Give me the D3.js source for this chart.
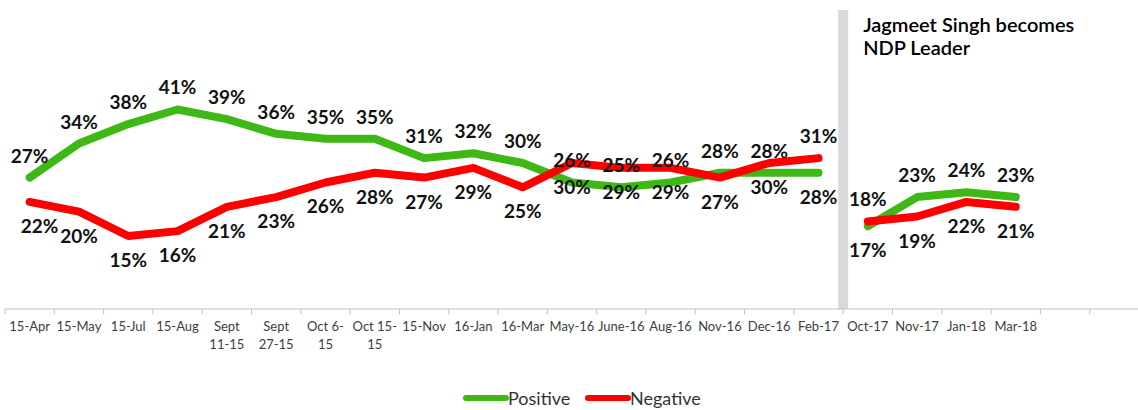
<!DOCTYPE html>
<meta charset="utf-8">
<style>
    body { margin: 0; background: #fff; }
    svg { font-family: Lato, "Open Sans", sans-serif; }
</style>
<body>
<svg width="1138" height="410"></svg>
<script src="https://d3js.org/d3.v7.min.js"></script>
<script>
    // survey waves (x categories); two empty slots follow on the right
    var categories = ["15-Apr", "15-May", "15-Jul", "15-Aug", "Sept\n11-15", "Sept\n27-15", "Oct 6-\n15", "Oct 15-\n15",
        "15-Nov", "16-Jan", "16-Mar", "May-16", "June-16", "Aug-16", "Nov-16", "Dec-16", "Feb-17",
        "Oct-17", "Nov-17", "Jan-18", "Mar-18"];
    var positive = [27, 34, 38, 41, 39, 36, 35, 35, 31, 32, 30, 26, 25, 26, 28, 28, 28, 17, 23, 24, 23];
    var negative = [22, 20, 15, 16, 21, 23, 26, 28, 27, 29, 25, 30, 29, 29, 27, 30, 31, 18, 19, 22, 21];
    // first wave after the event (gray marker sits before it)
    var eventIndex = 17;
    var eventText = ["Jagmeet Singh becomes", "NDP Leader"];
    // waves where the negative label goes on top instead of the positive one
    var swapLabels = [16, 17];

    var svg = d3.select("svg");
    var green = "#3db814", red = "#ff0000";

    var slots = d3.range(categories.length + 2);
    var x = d3.scaleBand().domain(slots).range([5, 1139]).padding(0);
    var y = d3.scaleLinear().domain([0, 60]).range([309, 17]);
    var cx = function (i) { return x(i) + x.bandwidth() / 2; };

    // event marker
    svg.append("rect")
        .attr("x", x(eventIndex) - 5)
        .attr("y", 10)
        .attr("width", 10)
        .attr("height", y(0) - 10)
        .attr("fill", "#d9d9d9");

    svg.append("text")
        .attr("x", x(eventIndex) + 20)
        .attr("y", 32)
        .style("font-size", "20px")
        .style("font-weight", "600")
        .style("fill", "#000")
        .selectAll("tspan")
        .data(eventText)
        .enter().append("tspan")
        .attr("x", x(eventIndex) + 20)
        .attr("dy", function (d, i) { return i ? 23 : 0; })
        .text(function (d) { return d; });

    // axis: line, ticks on band edges, labels in band centers
    var axis = svg.append("g").attr("class", "axis");
    axis.append("line")
        .attr("x1", 5).attr("x2", 1138)
        .attr("y1", y(0)).attr("y2", y(0))
        .attr("stroke", "#bfbfbf");
    axis.selectAll(".tick")
        .data(slots)
        .enter().append("line")
        .attr("class", "tick")
        .attr("x1", function (d) { return x(d); })
        .attr("x2", function (d) { return x(d); })
        .attr("y1", y(0)).attr("y2", y(0) + 5)
        .attr("stroke", "#bfbfbf");
    axis.selectAll(".lab")
        .data(categories)
        .enter().append("text")
        .attr("class", "lab")
        .attr("text-anchor", "middle")
        .style("font-size", "13px")
        .style("fill", "#404040")
        .each(function (d, i) {
            var t = d3.select(this);
            d.split("\n").forEach(function (s, j) {
                t.append("tspan").attr("x", cx(i)).attr("y", 331 + j * 18).text(s);
            });
        });

    // lines, broken at the event
    var line = d3.line()
        .x(function (d) { return cx(d.i); })
        .y(function (d) { return y(d.v); });

    function segments(values) {
        var pts = values.map(function (v, i) { return { i: i, v: v }; });
        return [pts.slice(0, eventIndex), pts.slice(eventIndex)];
    }

    [[positive, green], [negative, red]].forEach(function (s) {
        svg.append("g").selectAll("path")
            .data(segments(s[0]))
            .enter().append("path")
            .attr("d", line)
            .attr("fill", "none")
            .attr("stroke", s[1])
            .attr("stroke-width", 8)
            .attr("stroke-linecap", "round")
            .attr("stroke-linejoin", "round");
    });

    // data labels
    var labels = svg.append("g")
        .style("font-size", "19px")
        .style("font-weight", "bold")
        .style("fill", "#111")
        .attr("text-anchor", "middle");

    categories.forEach(function (c, i) {
        var swap = swapLabels.indexOf(i) >= 0;
        var top = swap ? negative[i] : positive[i];
        var bottom = swap ? positive[i] : negative[i];
        labels.append("text")
            .attr("x", cx(i))
            .attr("y", y(top) - 15)
            .text(top + "%");
        labels.append("text")
            .attr("x", cx(i) + (i === 0 ? 10 : 0))
            .attr("y", y(bottom) + 31)
            .text(bottom + "%");
    });

    // legend
    var legend = svg.append("g").style("font-size", "18px").style("fill", "#333");
    [["Positive", green, 466], ["Negative", red, 588]].forEach(function (l) {
        legend.append("line")
            .attr("x1", l[2]).attr("x2", l[2] + 40)
            .attr("y1", 398).attr("y2", 398)
            .attr("stroke", l[1])
            .attr("stroke-width", 6)
            .attr("stroke-linecap", "round");
        legend.append("text")
            .attr("x", l[2] + 42)
            .attr("y", 405)
            .text(l[0]);
    });
</script>
</body>
